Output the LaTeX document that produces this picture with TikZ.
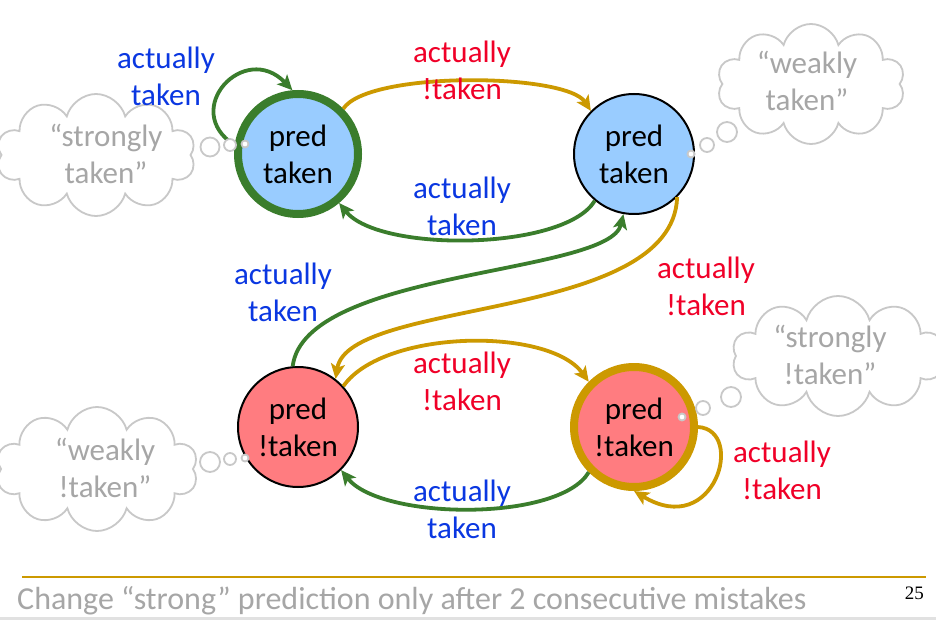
\documentclass[tikz,border=0pt]{standalone}
\usepackage{fontspec}
\setmainfont{Carlito}
\newfontfamily\pgnumfont{Liberation Serif}
\usetikzlibrary{arrows.meta,shapes.symbols}
\definecolor{egreen}{RGB}{58,125,44}
\definecolor{egold}{RGB}{204,153,0}
\definecolor{tblue}{RGB}{10,55,225}
\definecolor{tred}{RGB}{240,0,40}
\definecolor{sblue}{RGB}{153,204,255}
\definecolor{spink}{RGB}{255,124,128}
\definecolor{cgray}{RGB}{200,200,200}
\definecolor{tgray}{RGB}{166,166,166}
\definecolor{bandgray}{RGB}{225,225,225}
\begin{document}
\begin{tikzpicture}[x=1pt,y=-1pt,
  state/.style={circle,minimum size=120pt,inner sep=0pt,align=center,font=\fontsize{31}{37}\selectfont},
  thinborder/.style={draw=black,line width=2pt},
  lbl/.style={align=center,font=\fontsize{31}{37}\selectfont,inner sep=0pt},
  cloudbox/.style={cloud,cloud puffs=10,aspect=1.6,draw=cgray,fill=white,line width=1.8pt,inner sep=0pt},
  ctext/.style={align=center,text=tgray,font=\fontsize{31}{37}\selectfont,inner sep=0pt},
  bubble/.style={circle,draw=cgray,fill=white,line width=1.8pt,inner sep=0pt},
  garrow/.style={draw=egreen,line width=3.8pt,-{Stealth[length=15pt,width=14pt,inset=3.5pt]}},
  yarrow/.style={draw=egold,line width=3.8pt,-{Stealth[length=15pt,width=14pt,inset=3.5pt]}}
]
\useasboundingbox (0,0) rectangle (936,620);
\fill[white] (0,0) rectangle (936,620);

% clouds
\node[cloudbox,minimum width=199pt,minimum height=122pt] (cA) at (96,155) {};
\node[cloudbox,minimum width=188pt,minimum height=120pt] (cB) at (811,84) {};
\node[cloudbox,minimum width=212pt,minimum height=120pt] (cD) at (838,356) {};
\node[cloudbox,minimum width=202pt,minimum height=124pt] (cC) at (97,469) {};
\node[ctext] (tA) at (106,154) {“strongly\\taken”};
\node[ctext] (tB) at (807,81) {“weakly\\taken”};
\node[ctext] (tD) at (830,355) {“strongly\\!taken”};
\node[ctext] (tC) at (105,468) {“weakly\\!taken”};

% states
\node[state,fill=sblue,draw=egreen,line width=8pt] (A) at (298,154) {pred\\taken};
\node[state,fill=sblue,thinborder] (B) at (634,154) {pred\\taken};
\node[state,fill=spink,thinborder] (C) at (298,427) {pred\\!taken};
\node[state,fill=spink,draw=egold,line width=8pt] (D) at (634,427) {pred\\!taken};

% edges
\draw[yarrow] (A.45) .. controls +(25,-38) and +(-25,-38) .. (B.135);
\draw[garrow] (B.-130) .. controls +(-30,50) and +(40,50) .. (A.-50);
\draw[garrow] (A.172) .. controls +(-55,-35) and +(-48,-50) .. (A.95);
\draw[garrow] (C.95) .. controls +(12,-97) and +(-14,61) .. (B.-100);
\draw[yarrow] (B.-45) .. controls +(-4,125) and +(13,-81) .. (C.52);
\draw[yarrow] (C.42) .. controls +(40,-57) and +(-40,-55) .. (D.135);
\draw[garrow] (D.-135) .. controls +(-30,50) and +(40,50) .. (C.-45);
\draw[yarrow] (D.0) .. controls +(48,3) and +(81,49) .. (D.-90);

% bubbles
\node[bubble,minimum size=19pt] (bA1) at (210,147) {};
\node[bubble,minimum size=12pt] (bA2) at (230,145) {};
\node[bubble,minimum size=7pt] (bA3) at (245,144) {};
\node[bubble,minimum size=20pt] (bB1) at (727,132) {};
\node[bubble,minimum size=14pt] (bB2) at (707,145) {};
\node[bubble,minimum size=7pt] (bB3) at (691,154) {};
\node[bubble,minimum size=20pt] (bD1) at (731,397) {};
\node[bubble,minimum size=14pt] (bD2) at (703,408) {};
\node[bubble,minimum size=7pt] (bD3) at (682,417) {};
\node[bubble,minimum size=20pt] (bC1) at (210,462) {};
\node[bubble,minimum size=12pt] (bC2) at (230,459) {};
\node[bubble,minimum size=7pt] (bC3) at (245,458) {};

% edge labels
\node[lbl,text=tred] (l1) at (462,70) {actually\\!taken};
\node[lbl,text=tblue] (l2) at (462,206) {actually\\taken};
\node[lbl,text=tblue] (l3) at (166,76) {actually\\taken};
\node[lbl,text=tblue] (l4) at (283,292) {actually\\taken};
\node[lbl,text=tred] (l5) at (706,286) {actually\\!taken};
\node[lbl,text=tred] (l6) at (462,381) {actually\\!taken};
\node[lbl,text=tblue] (l7) at (462,509) {actually\\taken};
\node[lbl,text=tred] (l8) at (782,470) {actually\\!taken};

% footer
\coordinate (fl) at (22,577);
\coordinate (fr) at (926,577);
\draw[egold,line width=2.5pt] (fl) -- (fr);
\node[anchor=base west,inner sep=0pt,text=tgray,font=\fontsize{32}{38}\selectfont] (foot) at (17,609) {Change “strong” prediction only after 2 consecutive mistakes};
\node[anchor=base east,inner sep=0pt,font=\pgnumfont\fontsize{19}{22}\selectfont] (pg) at (924,599) {25};
\fill[bandgray] (0,617) rectangle (936,620);
\end{tikzpicture}
\end{document}
